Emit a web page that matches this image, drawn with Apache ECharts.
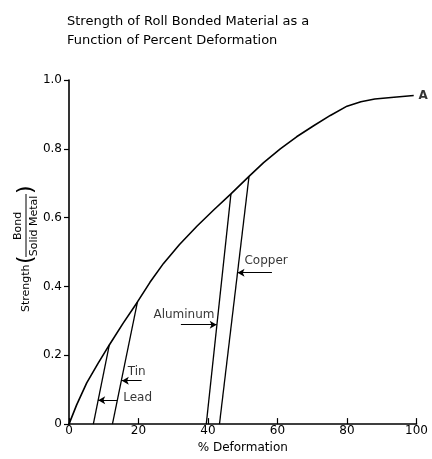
<!DOCTYPE html>
<html>
<head>
<meta charset="utf-8">
<script src="https://cdn.jsdelivr.net/npm/echarts@6/dist/echarts.min.js"></script>
<style>html,body{margin:0;padding:0;background:#fff}#c{width:432px;height:459px}</style>
</head>
<body>
<div id="c"></div>
<script>
// Data
const xTicks = [0, 20, 40, 60, 80, 100];
const yTicks = [0, 0.2, 0.4, 0.6, 0.8, 1.0];
const mainCurve = [[0,0],[2.2,0.056],[5.1,0.12],[8.4,0.177],[11.6,0.23],[15.5,0.292],[19.7,0.355],[23.3,0.412],[27.2,0.467],[31.8,0.522],[36.8,0.575],[41.7,0.623],[46.6,0.669],[51.8,0.72],[56,0.76],[60.8,0.8],[65.5,0.835],[70.4,0.867],[75.2,0.897],[80,0.924],[84,0.937],[88,0.945],[93.5,0.95],[99.2,0.955]];
const lead = [[7.0,0],[11.6,0.23]];
const tin = [[12.5,0],[19.7,0.355]];
const aluminum = [[39.5,0],[46.6,0.669]];
const copper = [[43.3,0],[51.8,0.72]];
const labelNames = ['Tin', 'Lead', 'Aluminum', 'Copper', 'A'];
const labelPos = [[16.9,0.152],[15.6,0.076],[24.3,0.316],[50.5,0.474],[100.6,0.954]];
// arrows: [from (arrow head), to]
const arrows = [
  [[15.2,0.126],[20.9,0.126]],
  [[8.4,0.069],[13.8,0.069]],
  [[42.5,0.289],[32.2,0.289]],
  [[48.5,0.44],[58.4,0.44]]
];

const FONT = 'DejaVu Sans';
const chart = echarts.init(document.getElementById('c'), null, {renderer:'canvas'});
const lineStyle = {color:'#000', width:1.6};
function seg(d){ return {type:'line', data:d, symbol:'none', lineStyle:{color:'#000', width:1.3}, silent:true, z:3}; }

chart.setOption({
  animation:false,
  backgroundColor:'#fff',
  title:{
    text:'Strength of Roll Bonded Material as a\nFunction of Percent Deformation',
    left:62, top:7,
    textStyle:{fontFamily:FONT, fontSize:13, fontWeight:'normal', color:'#000', lineHeight:19}
  },
  grid:{left:69, right:15.5, top:80, bottom:29, containLabel:false},
  xAxis:{
    type:'value', min:0, max:100, interval:20,
    name:'% Deformation', nameLocation:'middle', nameGap:17,
    nameTextStyle:{fontFamily:FONT, fontSize:12, color:'#000'},
    axisLine:{lineStyle:{color:'#000', width:1.6}},
    axisTick:{inside:true, length:6, lineStyle:{color:'#000', width:1.2}},
    axisLabel:{margin:1, fontFamily:FONT, fontSize:12, color:'#000',
      formatter:v=> xTicks.indexOf(v)>=0 ? String(v) : ''},
    splitLine:{show:false}
  },
  yAxis:{
    type:'value', min:0, max:1, interval:0.2,
    axisLine:{show:true, lineStyle:{color:'#000', width:1.6}},
    axisTick:{show:true, inside:false, length:5, lineStyle:{color:'#000', width:1.2}},
    axisLabel:{margin:7, fontFamily:FONT, fontSize:12, color:'#000',
      formatter:v=>{ const t = yTicks.find(k=>Math.abs(k-v)<1e-6); return t===undefined?'':(t===0?'0':t.toFixed(1)); }},
    splitLine:{show:false}
  },
  graphic:[{
    type:'group', x:26, y:312, rotation:Math.PI/2,
    children:[
      {type:'text', x:0, y:0, style:{text:'Strength', fontFamily:FONT, fontSize:11, fill:'#000', textAlign:'left', textVerticalAlign:'middle'}},
      {type:'text', x:48, y:0, style:{text:'(', fontFamily:FONT, fontSize:22, fill:'#000', textAlign:'left', textVerticalAlign:'middle'}},
      {type:'text', x:86, y:-8, style:{text:'Bond', fontFamily:FONT, fontSize:11, fill:'#000', textAlign:'center', textVerticalAlign:'middle'}},
      {type:'line', shape:{x1:55, y1:0, x2:118, y2:0}, style:{stroke:'#000', lineWidth:1}},
      {type:'text', x:86, y:8, style:{text:'Solid Metal', fontFamily:FONT, fontSize:11, fill:'#000', textAlign:'center', textVerticalAlign:'middle'}},
      {type:'text', x:118, y:0, style:{text:')', fontFamily:FONT, fontSize:22, fill:'#000', textAlign:'left', textVerticalAlign:'middle'}}
    ]
  }],
  series:[
    {type:'line', data:mainCurve, smooth:false, symbol:'none', lineStyle:lineStyle, silent:true, z:4},
    seg(lead), seg(tin), seg(aluminum), seg(copper),
    {type:'scatter', data:labelPos.map((p,i)=>({value:p, name:labelNames[i],
        label: i===4 ? {fontWeight:'bold'} : {}})), symbolSize:0, clip:false, silent:true,
      label:{show:true, position:'right', distance:0, formatter:p=>p.name, fontFamily:FONT, fontSize:12, color:'#000'},
      z:5,
      markLine:{silent:true, symbol:['arrow','none'], symbolSize:[6,7], label:{show:false},
        lineStyle:{color:'#000', width:1, type:'solid'},
        data:arrows.map(a=>[{coord:a[0]},{coord:a[1]}])}
    }
  ]
});
</script>
</body>
</html>
